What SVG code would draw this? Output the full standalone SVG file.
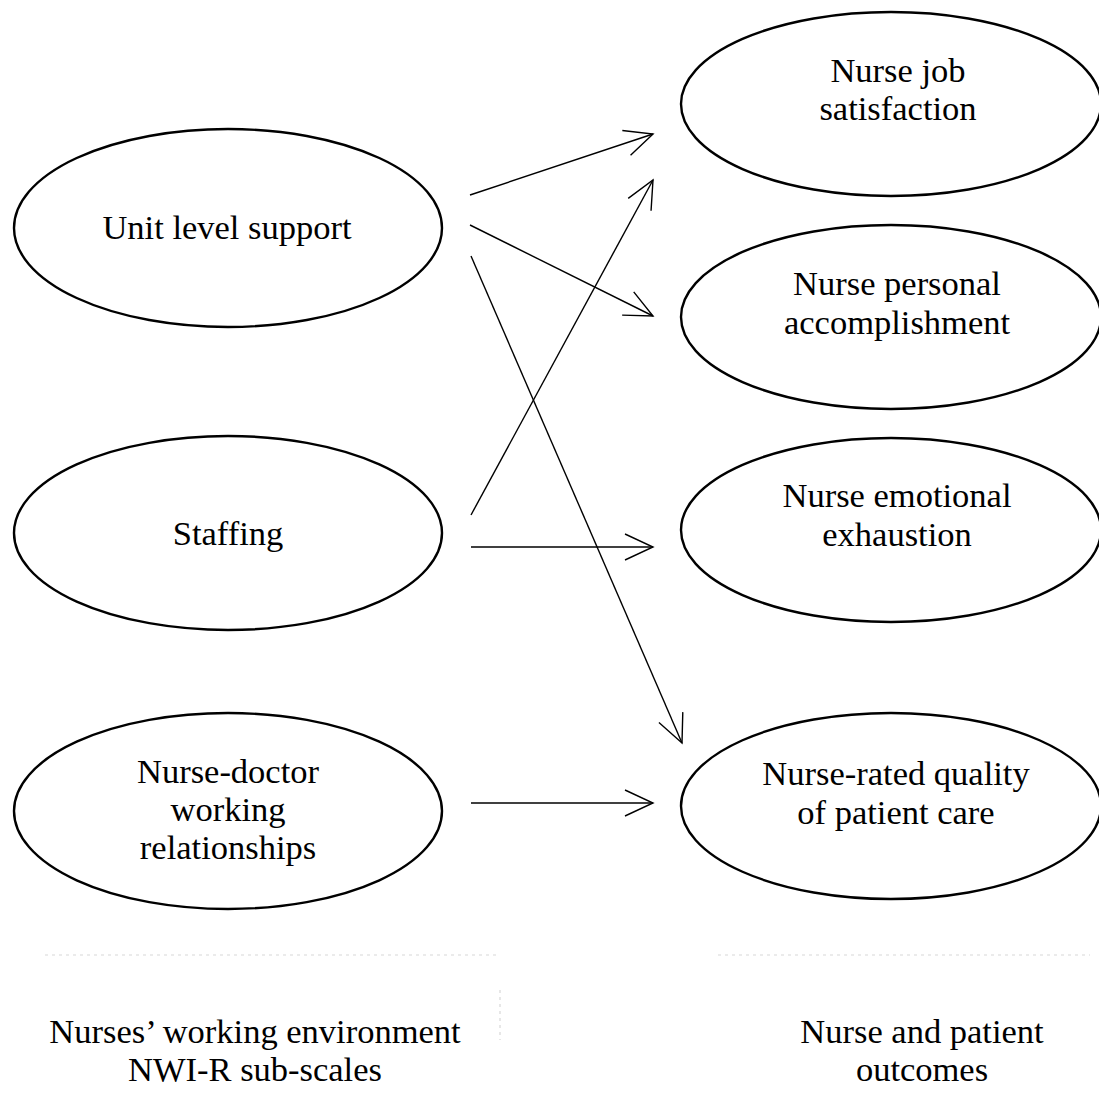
<svg xmlns="http://www.w3.org/2000/svg" width="1099" height="1100" viewBox="0 0 1099 1100">
  <style>
    .node ellipse { fill: #fff; stroke: #000; stroke-width: 2.4; }
    .node text, .caption text { font-family: "Liberation Serif", "Times New Roman", serif; font-size: 34.5px; fill: #000; text-anchor: middle; }
    .edge { stroke: #000; stroke-width: 1.4; fill: none; marker-end: url(#open); }
    .rule { stroke: #d8d8d8; stroke-width: 1.2; stroke-dasharray: 3 4; fill: none; }
  </style>
  <defs>
    <marker id="open" viewBox="-32 -16 34 32" refX="0" refY="0" markerWidth="34" markerHeight="32" markerUnits="userSpaceOnUse" orient="auto">
      <path d="M -28 -13 L 0 0 L -28 13" fill="none" stroke="#000" stroke-width="1.4"/>
    </marker>
  </defs>
  <rect width="1099" height="1100" fill="#fff"/>

  <!-- predictors: NWI-R sub-scales -->
  <g id="unit-support" class="node">
    <ellipse cx="228" cy="228" rx="214" ry="99"/>
    <text x="227" y="239">Unit level support</text>
  </g>
  <g id="staffing" class="node">
    <ellipse cx="228" cy="533" rx="214" ry="97"/>
    <text x="228" y="545">Staffing</text>
  </g>
  <g id="nurse-doctor" class="node">
    <ellipse cx="228" cy="811" rx="214" ry="98"/>
    <text x="228" y="783">Nurse-doctor</text>
    <text x="228" y="821">working</text>
    <text x="228" y="859">relationships</text>
  </g>

  <!-- outcomes -->
  <g id="job-satisfaction" class="node">
    <ellipse cx="891" cy="104" rx="210" ry="92"/>
    <text x="898" y="82">Nurse job</text>
    <text x="898" y="120">satisfaction</text>
  </g>
  <g id="personal-accomplishment" class="node">
    <ellipse cx="891" cy="317" rx="210" ry="92"/>
    <text x="897" y="295">Nurse personal</text>
    <text x="897" y="334">accomplishment</text>
  </g>
  <g id="emotional-exhaustion" class="node">
    <ellipse cx="891" cy="530" rx="210" ry="92"/>
    <text x="897" y="507">Nurse emotional</text>
    <text x="897" y="546">exhaustion</text>
  </g>
  <g id="quality-of-care" class="node">
    <ellipse cx="891" cy="806" rx="210" ry="93"/>
    <text x="896" y="785">Nurse-rated quality</text>
    <text x="896" y="824">of patient care</text>
  </g>

  <!-- paths -->
  <g id="connectors">
    <line class="edge" x1="470" y1="195" x2="653" y2="134"/>
    <line class="edge" x1="470" y1="225" x2="653" y2="316"/>
    <line class="edge" x1="471" y1="256" x2="682" y2="743"/>
    <line class="edge" x1="471" y1="515" x2="653" y2="180"/>
    <line class="edge" x1="471" y1="547" x2="653" y2="547"/>
    <line class="edge" x1="471" y1="803" x2="653" y2="803"/>
  </g>

  <!-- column captions -->
  <g id="captions" class="caption">
    <line class="rule" x1="45" y1="955" x2="500" y2="955"/>
    <line class="rule" x1="718" y1="955" x2="1090" y2="955"/>
    <line class="rule" x1="500" y1="990" x2="500" y2="1040"/>
    <text x="255" y="1043">Nurses’ working environment</text>
    <text x="255" y="1081">NWI-R sub-scales</text>
    <text x="922" y="1043">Nurse and patient</text>
    <text x="922" y="1081">outcomes</text>
  </g>
</svg>
